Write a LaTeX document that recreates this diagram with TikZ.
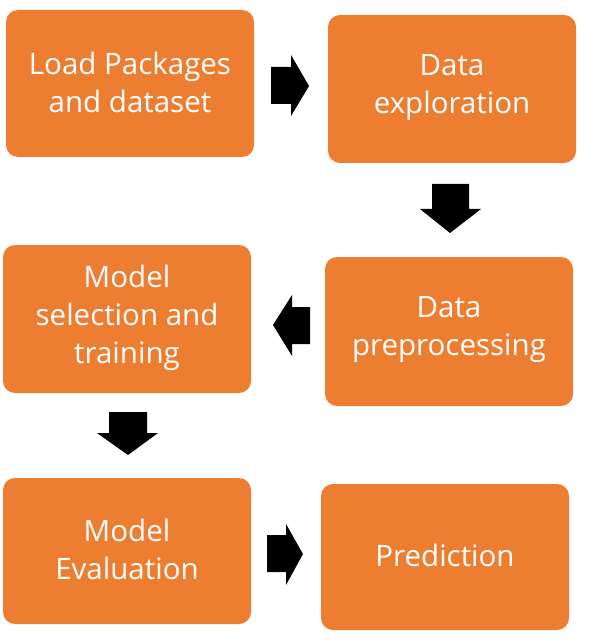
\documentclass[tikz,border=0pt]{standalone}
\usepackage{fontspec}
\setmainfont{Open Sans}
\definecolor{boxorange}{HTML}{ED7D31}
\begin{document}
\begin{tikzpicture}[x=1pt,y=-1pt,
  stepbox/.style={fill=boxorange,draw=none,rounded corners=12pt},
  steptext/.style={text=white,align=center,font=\fontsize{29.5}{38}\selectfont},
  blockarrow/.style={fill=black,draw=none}]
\useasboundingbox (0,0) rectangle (593,644);
% boxes
\fill[stepbox] (6,10) rectangle (254,157);
\node[steptext] (b1) at (130,82) {Load Packages\\and dataset};
\fill[stepbox] (328,15) rectangle (576,163);
\node[steptext] (b2) at (452,87.5) {Data\\exploration};
\fill[stepbox] (325,257) rectangle (573,406);
\node[steptext] (b3) at (449,330) {Data\\preprocessing};
\fill[stepbox] (3,245) rectangle (251,393);
\node[steptext] (b4) at (127,317.5) {Model\\selection and\\training};
\fill[stepbox] (3,478) rectangle (251,624);
\node[steptext] (b5) at (127,549.5) {Model\\Evaluation};
\fill[stepbox] (321,484) rectangle (569,630);
\node[steptext] (b6) at (445,555.5) {Prediction};
% arrows
\fill[blockarrow] (271,67) -- (291,67) -- (291,55) -- (309,86) -- (291,116) -- (291,104) -- (271,104) -- cycle;
\fill[blockarrow] (432,184) -- (469,184) -- (469,209) -- (481,209) -- (450,233) -- (420,209) -- (432,209) -- cycle;
\fill[blockarrow] (310,307) -- (292,307) -- (292,295) -- (273,325) -- (292,356) -- (292,344) -- (310,344) -- cycle;
\fill[blockarrow] (109,412) -- (147,412) -- (147,433) -- (158,433) -- (128,455) -- (97,433) -- (109,433) -- cycle;
\fill[blockarrow] (267,535) -- (286,535) -- (286,524) -- (303,554) -- (286,585) -- (286,572) -- (267,572) -- cycle;
\end{tikzpicture}
\end{document}
